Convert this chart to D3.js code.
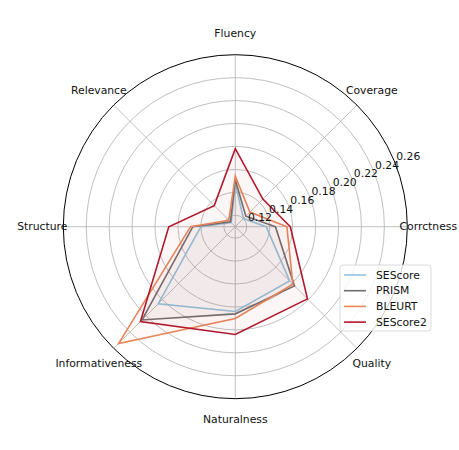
<!DOCTYPE html>
<html>
<head>
<meta charset="utf-8">
<script src="https://cdn.jsdelivr.net/npm/d3@7"></script>
<style>
  body { margin: 0; background: #fff; }
  text { font-family: "DejaVu Sans", sans-serif; }
</style>
</head>
<body>
<svg width="459" height="450"></svg>
<script>
const categories = ["Corrctness", "Coverage", "Fluency", "Relevance", "Structure", "Informativeness", "Naturalness", "Quality"];
const seriesNames = ["SEScore", "PRISM", "BLEURT", "SEScore2"];
const sescore  = [0.137, 0.120, 0.148, 0.115, 0.140, 0.205, 0.184, 0.177];
const prism    = [0.145, 0.123, 0.151, 0.116, 0.147, 0.225, 0.186, 0.183];
const bleurt   = [0.155, 0.128, 0.154, 0.118, 0.149, 0.254, 0.190, 0.181];
const sescore2 = [0.158, 0.144, 0.178, 0.136, 0.168, 0.227, 0.204, 0.199];
const rTicks = [0.12, 0.14, 0.16, 0.18, 0.20, 0.22, 0.24, 0.26];

const colors = ["#92c5de", "#6e6e6e", "#e8875a", "#b2182b"];
const allSeries = [sescore, prism, bleurt, sescore2];

const cx = 235.3, cy = 226.7, R = 172;
const svg = d3.select("svg");
const g = svg.append("g").attr("transform", "translate(" + cx + "," + cy + ")");

const r = d3.scaleLinear().domain([0.11, 0.26]).range([0, R]);

// angle for category i: counter-clockwise from east, converted for d3 (0 = up, clockwise)
const theta = d3.scaleLinear().domain([0, categories.length]).range([0, 2 * Math.PI]);
function d3Angle(i) { return Math.PI / 2 - theta(i); }

//grid rings
g.selectAll(".ring")
  .data(rTicks.slice(0, -1))
  .enter().append("circle")
  .attr("r", d => r(d))
  .attr("fill", "none")
  .attr("stroke", "#b0b0b0")
  .attr("stroke-width", 0.8);

//spokes
g.selectAll(".spoke")
  .data(categories)
  .enter().append("line")
  .attr("x1", 0).attr("y1", 0)
  .attr("x2", (d, i) => R * Math.cos(theta(i)))
  .attr("y2", (d, i) => -R * Math.sin(theta(i)))
  .attr("stroke", "#b0b0b0")
  .attr("stroke-width", 0.8);

//series polygons
const line = d3.lineRadial()
  .angle((d, i) => d3Angle(i))
  .radius(d => r(d))
  .curve(d3.curveLinearClosed);

allSeries.forEach((s, k) => {
  g.append("path")
    .attr("d", line(s))
    .attr("fill", colors[k])
    .attr("fill-opacity", 0.04)
    .attr("stroke", colors[k])
    .attr("stroke-width", 1.6)
    .attr("stroke-linejoin", "miter");
});

//outer circle
g.append("circle")
  .attr("r", R)
  .attr("fill", "none")
  .attr("stroke", "#000")
  .attr("stroke-width", 1);

//category labels
g.selectAll(".cat")
  .data(categories)
  .enter().append("text")
  .attr("x", (d, i) => 193 * Math.cos(theta(i)))
  .attr("y", (d, i) => -193 * Math.sin(theta(i)))
  .attr("text-anchor", "middle")
  .attr("dominant-baseline", "central")
  .attr("font-size", "10.8px")
  .attr("fill", "#111")
  .text(d => d);

//radial tick labels at 22.5 deg
const la = 22.5 * Math.PI / 180;
g.selectAll(".rlab")
  .data(rTicks)
  .enter().append("text")
  .attr("x", d => r(d) * Math.cos(la) + 2)
  .attr("y", d => -r(d) * Math.sin(la) - 1)
  .attr("font-size", "10.8px")
  .attr("fill", "#111")
  .text(d => d.toFixed(2));

//legend
const lg = svg.append("g").attr("transform", "translate(340,265)");
lg.append("rect")
  .attr("width", 91).attr("height", 66)
  .attr("rx", 3)
  .attr("fill", "#fff").attr("fill-opacity", 0.8)
  .attr("stroke", "#d0d0d0").attr("stroke-width", 0.8);
seriesNames.forEach((name, k) => {
  const y = 10 + k * 15.7;
  lg.append("line")
    .attr("x1", 4).attr("x2", 26)
    .attr("y1", y).attr("y2", y)
    .attr("stroke", colors[k]).attr("stroke-width", 1.6);
  lg.append("text")
    .attr("x", 36).attr("y", y)
    .attr("dominant-baseline", "central")
    .attr("font-size", "10.8px")
    .attr("fill", "#111")
    .text(name);
});
</script>
</body>
</html>
